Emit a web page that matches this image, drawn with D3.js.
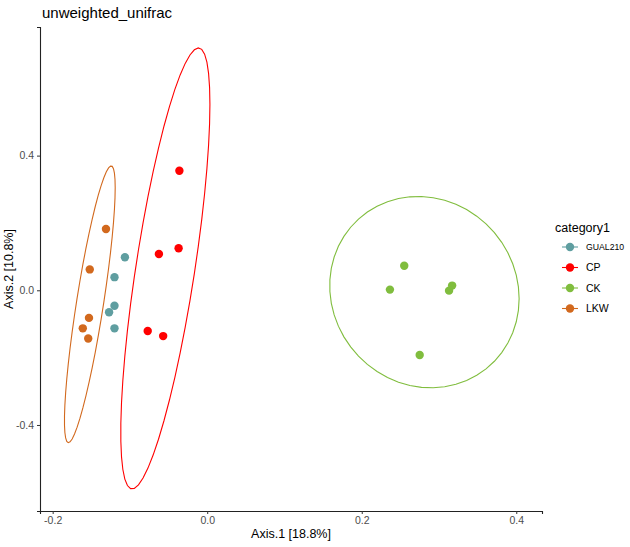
<!DOCTYPE html>
<html>
<head>
<meta charset="utf-8">
<script src="https://cdn.jsdelivr.net/npm/d3@7"></script>
<style>
  body { margin:0; background:#fff; }
  text { font-family: "Liberation Sans", Arial, sans-serif; }
</style>
</head>
<body>
<div id="canvas"></div>
<script>
//data
var groups = ['GUAL210','CP','CK','LKW'];
var groupColors = ['#5f9ea0','#ff0000','#80bd3e','#d2691e'];
//the reference has no ellipse around GUAL210
var ellipseGroups = ['CP','CK','LKW'];

var sampleGroup = ['LKW','LKW','LKW','LKW','LKW',
                   'GUAL210','GUAL210','GUAL210','GUAL210','GUAL210',
                   'CP','CP','CP','CP','CP',
                   'CK','CK','CK','CK','CK'];
var axis1 = [-0.131,-0.152,-0.153,-0.161,-0.154,
             -0.1065,-0.120,-0.120,-0.127,-0.120,
             -0.036,-0.037,-0.0625,-0.077,-0.057,
             0.255,0.2365,0.317,0.313,0.275];
var axis2 = [0.182,0.062,-0.082,-0.113,-0.143,
             0.098,0.039,-0.046,-0.065,-0.113,
             0.355,0.125,0.108,-0.121,-0.136,
             0.073,0.002,0.014,-0.001,-0.192];

var xTicks = [-0.2,0.0,0.2,0.4];
var yTicks = [-0.4,0.0,0.4];

var title = 'unweighted_unifrac',
    xTitle = 'Axis.1 [18.8%]',
    yTitle = 'Axis.2 [10.8%]',
    legendTitle = 'category1';

var W = 630, H = 547;
var m = {t:27,r:88,b:36,l:40};

var svg = d3.select('#canvas')
    .append('svg')
    .attr('width',W)
    .attr('height',H);

var scaleX = d3.scaleLinear()
    .domain([-0.2164,0.4333])
    .range([m.l, W - m.r]);

var scaleY = d3.scaleLinear()
    .domain([-0.6555,0.782])
    .range([H - m.b, m.t]);

var color = d3.scaleOrdinal().domain(groups).range(groupColors);

var rows = sampleGroup.map(function(g,i){
    return {group:g, x:axis1[i], y:axis2[i]};
});

//robust t covariance like MASS::cov.trob, then ellipse like stat_ellipse
function covTrob(pts){
    var n = pts.length, p = 2, nu = 5, tol = 0.01;
    var loc = [d3.mean(pts,function(d){return d[0];}), d3.mean(pts,function(d){return d[1];})];
    var w = pts.map(function(){return 1;});
    var X;
    for (var iter=0; iter<25; iter++){
        var w0 = w.slice();
        X = pts.map(function(d){ return [d[0]-loc[0], d[1]-loc[1]]; });
        var sw = d3.sum(w), a=0, b=0, c=0;
        X.forEach(function(d,i){
            a += w[i]/sw*d[0]*d[0];
            b += w[i]/sw*d[0]*d[1];
            c += w[i]/sw*d[1]*d[1];
        });
        var det = a*c - b*b;
        var Q = X.map(function(d){ return (c*d[0]*d[0] - 2*b*d[0]*d[1] + a*d[1]*d[1])/det; });
        w = Q.map(function(q){ return (nu+p)/(nu+q); });
        sw = d3.sum(w);
        loc = [d3.sum(pts,function(d,i){return w[i]*d[0];})/sw,
               d3.sum(pts,function(d,i){return w[i]*d[1];})/sw];
        var done = w.every(function(v,i){ return Math.abs(v-w0[i]) < tol; });
        if (done) break;
    }
    var cxx=0, cxy=0, cyy=0;
    X.forEach(function(d,i){
        cxx += w[i]*d[0]*d[0];
        cxy += w[i]*d[0]*d[1];
        cyy += w[i]*d[1]*d[1];
    });
    return {center:loc, cov:[cxx/n, cxy/n, cyy/n]};
}

function ellipsePoints(pts, level){
    var v = covTrob(pts);
    var dfd = pts.length - 1;
    //F(2,dfd) quantile has a closed form
    var q = (dfd/2)*(Math.pow(1-level,-2/dfd) - 1);
    var radius = Math.sqrt(2*q);
    var r11 = Math.sqrt(v.cov[0]),
        r12 = v.cov[1]/r11,
        r22 = Math.sqrt(v.cov[2] - r12*r12);
    var out = [];
    for (var k=0; k<=51; k++){
        var t = k*2*Math.PI/51;
        out.push([v.center[0] + radius*Math.cos(t)*r11,
                  v.center[1] + radius*(Math.cos(t)*r12 + Math.sin(t)*r22)]);
    }
    return out;
}

var line = d3.line()
    .x(function(d){return scaleX(d[0]);})
    .y(function(d){return scaleY(d[1]);});

ellipseGroups.forEach(function(g){
    var pts = rows.filter(function(r){return r.group==g;}).map(function(r){return [r.x,r.y];});
    svg.append('path')
        .attr('d', line(ellipsePoints(pts,0.95)))
        .attr('fill','none')
        .attr('stroke',color(g))
        .attr('stroke-width',1.1);
});

svg.selectAll('circle.pt')
    .data(rows)
    .enter()
    .append('circle')
    .attr('class','pt')
    .attr('cx',function(d){return scaleX(d.x);})
    .attr('cy',function(d){return scaleY(d.y);})
    .attr('r',4.2)
    .attr('fill',function(d){return color(d.group);});

//axes (classic theme: only left and bottom)
var axisX = d3.axisBottom(scaleX).tickValues(xTicks).tickSize(3).tickPadding(3)
    .tickFormat(d3.format('.1f'));
var axisY = d3.axisLeft(scaleY).tickValues(yTicks).tickSize(3).tickPadding(3)
    .tickFormat(d3.format('.1f'));

var gx = svg.append('g')
    .attr('transform','translate(0,' + (H - m.b) + ')')
    .call(axisX);
var gy = svg.append('g')
    .attr('transform','translate(' + m.l + ',0)')
    .call(axisY);

[gx,gy].forEach(function(g){
    g.select('.domain').attr('stroke','#222').attr('stroke-width',1.1);
    g.selectAll('.tick line').attr('stroke','#333');
    g.selectAll('.tick text')
        .attr('fill','#4d4d4d')
        .style('font-size','10.5px')
        .style('font-family','"Liberation Sans", Arial, sans-serif');
});
// d3 uses a real minus sign, ggplot uses a hyphen
svg.selectAll('.tick text').text(function(d){ return d3.format('.1f')(d).replace('\u2212','-'); });

svg.append('text')
    .attr('x',42).attr('y',18)
    .style('font-size','15px')
    .attr('fill','#000')
    .text(title);

svg.append('text')
    .attr('x',(m.l + W - m.r)/2).attr('y',538)
    .attr('text-anchor','middle')
    .style('font-size','12.5px')
    .text(xTitle);

svg.append('text')
    .attr('transform','translate(13,' + ((m.t + H - m.b)/2) + ') rotate(-90)')
    .attr('text-anchor','middle')
    .style('font-size','12.5px')
    .text(yTitle);

//legend
var legend = svg.append('g').attr('transform','translate(555,0)');
legend.append('text')
    .attr('x',0).attr('y',232)
    .style('font-size','12.5px')
    .text(legendTitle);

var item = legend.selectAll('g.item')
    .data(groups)
    .enter()
    .append('g')
    .attr('class','item')
    .attr('transform',function(d,i){ return 'translate(0,' + (247 + i*20.5) + ')'; });

item.append('line')
    .attr('x1',7).attr('x2',23)
    .attr('stroke',function(d){return color(d);})
    .attr('stroke-width',1.1);
item.append('circle')
    .attr('cx',15).attr('r',4.2)
    .attr('fill',function(d){return color(d);});
item.append('text')
    .attr('x',31).attr('dy','0.35em')
    .style('font-size',function(d){ return d.length > 4 ? '8.7px' : '10.5px'; })
    .text(function(d){return d;});
</script>
</body>
</html>
